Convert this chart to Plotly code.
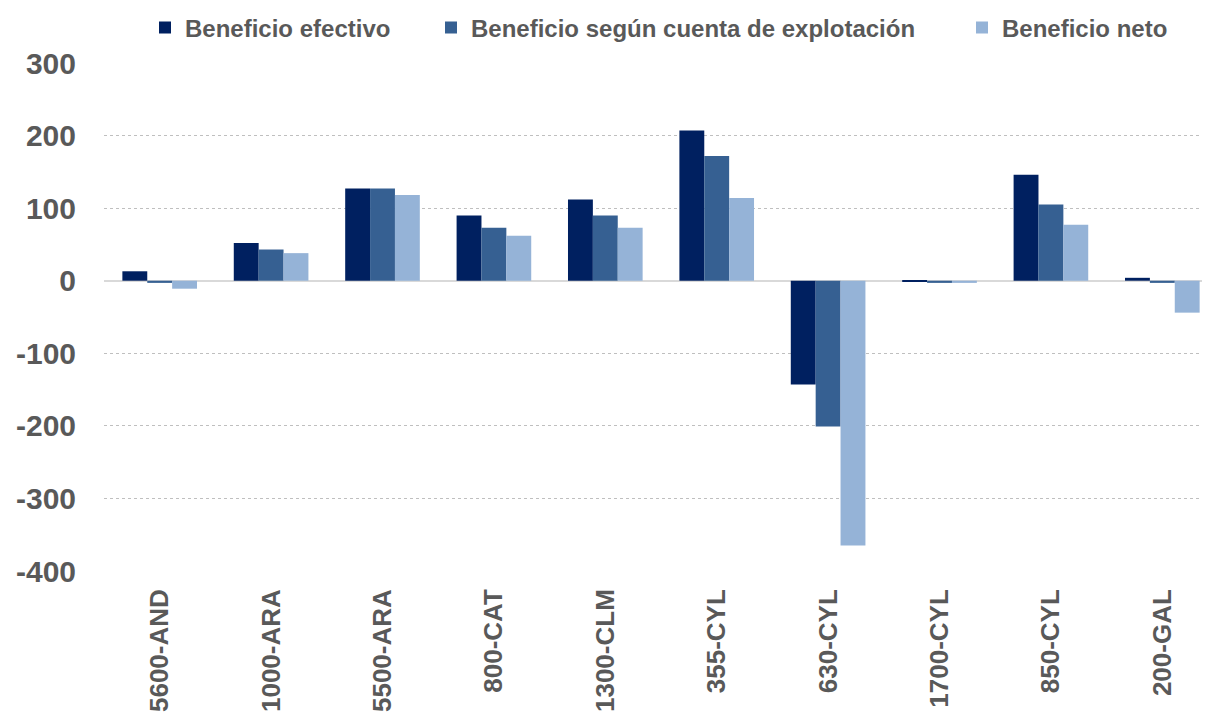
import plotly.graph_objects as go

categories = ["5600-AND", "1000-ARA", "5500-ARA", "800-CAT", "1300-CLM",
              "355-CYL", "630-CYL", "1700-CYL", "850-CYL", "200-GAL"]
beneficio_efectivo = [13, 52, 127, 90, 112, 207, -143, -1, 146, 4]
beneficio_cuenta = [-3, 43, 127, 73, 90, 172, -201, -3, 105, -3]
beneficio_neto = [-11, 38, 118, 62, 73, 114, -365, -3, 77, -44]
y_ticks = [-400, -300, -200, -100, 0, 100, 200, 300]
y_tick_text = ["-400", "-300", "-200", "-100", "0", "100", "200", "300"]

W, H = 1202, 707
series = [
    ("Beneficio efectivo", beneficio_efectivo, "#002060", "legend", 137),
    ("Beneficio según cuenta de explotación", beneficio_cuenta, "#366092", "legend2", 423),
    ("Beneficio neto", beneficio_neto, "#95B3D7", "legend3", 954),
]

font_family = "Liberation Sans, Arial, sans-serif"
legend_font = dict(size=24, family=font_family, color="#595959", weight="bold")

fig = go.Figure()
legends = {}
for name, vals, color, leg, lx in series:
    fig.add_trace(go.Bar(x=categories, y=vals, name=name, marker_color=color,
                         marker_line_width=0, legend=leg, showlegend=True))
    legends[leg] = dict(orientation="h", xref="container", yref="container",
                        x=lx / W, xanchor="left", y=1 - 20 / H, yanchor="middle",
                        font=legend_font, itemwidth=30, bgcolor="rgba(0,0,0,0)",
                        visible=True)

fig.update_layout(
    width=W, height=H,
    showlegend=True,
    paper_bgcolor="white", plot_bgcolor="white",
    margin=dict(l=96, r=0, t=55, b=144, autoexpand=False),
    barmode="group", bargap=0.33, bargroupgap=0,
    font=dict(family=font_family, color="#595959"),
    **legends,
    xaxis=dict(tickangle=-90,
               tickfont=dict(size=26, family=font_family, weight="bold", color="#595959"),
               showline=False, ticks="", showgrid=False, range=[-0.5, 9.428],
               ticklabelstandoff=12),
    yaxis=dict(range=[-400, 300], tickvals=y_ticks, ticktext=y_tick_text,
               tickfont=dict(size=30, weight="bold", color="#595959"),
               showgrid=True, gridcolor="#BFBFBF", griddash="dot", gridwidth=1,
               zeroline=True, zerolinecolor="#D9D9D9", zerolinewidth=2,
               ticks="", ticklabelstandoff=27),
)

fig.write_html("out.html")
